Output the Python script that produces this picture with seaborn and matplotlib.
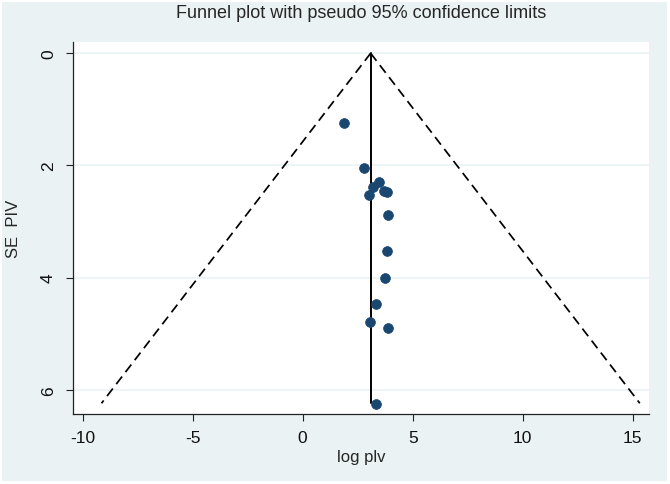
import numpy as np
import pandas as pd
import matplotlib.pyplot as plt
import seaborn as sns
from matplotlib.patches import Rectangle

# study estimates
log_plv = [1.88, 2.80, 3.48, 3.21, 3.01, 3.70, 3.83, 3.89, 3.82, 3.73, 3.35, 3.07, 3.88, 3.32]
se_piv = [1.25, 2.05, 2.29, 2.38, 2.52, 2.45, 2.47, 2.89, 3.53, 4.01, 4.47, 4.79, 4.89, 6.26]
pooled = 3.09
se_max = 6.24
x_ticks = [-10, -5, 0, 5, 10, 15]
y_ticks = [0, 2, 4, 6]

df = pd.DataFrame({"log plv": log_plv, "SE PIV": se_piv})

sns.set_theme(style="white")
plt.rcParams["font.family"] = ["Liberation Sans", "DejaVu Sans"]
plt.rcParams["axes.unicode_minus"] = False

fig = plt.figure(figsize=(6.7, 4.85), dpi=100, facecolor="white")
fig.patches.append(Rectangle((2 / 670, 3.3 / 485), 664.7 / 670, 478.4 / 485,
                             transform=fig.transFigure, facecolor="#eaf2f3",
                             edgecolor="none", zorder=-10))
ax = fig.add_axes([0.1085, 0.1433, 0.8602, 0.768])
ax.set_zorder(1)
ax.set_facecolor("white")

# pseudo 95% limits and pooled line
se_line = np.array([0, se_max])
ax.plot(pooled - 1.96 * se_line, se_line, color="black", ls=(0, (5.5, 3.2)), lw=1.25)
ax.plot(pooled + 1.96 * se_line, se_line, color="black", ls=(0, (5.5, 3.2)), lw=1.25)
ax.plot([pooled, pooled], se_line, color="black", lw=1.4)

sns.scatterplot(data=df, x="log plv", y="SE PIV", ax=ax, color="#1a476f",
                s=50, edgecolor="#1a476f", linewidth=0.5, zorder=3)

ax.set_xlim(-10.45, 15.74)
ax.set_ylim(6.44, -0.2)
ax.set_xticks(x_ticks)
ax.set_yticks(y_ticks)
ax.yaxis.grid(True, color="#eaf2f3", lw=1.2)
ax.set_axisbelow(True)

for s in ["top", "right"]:
    ax.spines[s].set_visible(False)
for s in ["left", "bottom"]:
    ax.spines[s].set_color("#222222")
    ax.spines[s].set_linewidth(0.9)

ax.tick_params(axis="both", which="both", direction="out", length=5, width=0.8,
               color="#222222", labelsize=12.5, labelcolor="#111111")
ax.tick_params(axis="x", pad=6, bottom=True)
ax.tick_params(axis="y", pad=7, left=True)
for lab in ax.get_yticklabels():
    lab.set_rotation(90)
    lab.set_va("center")

ax.set_xlabel("")
ax.set_ylabel("")
fig.text(361 / 670, 1 - 458 / 485, "log plv", ha="center", va="center", fontsize=12)
fig.text(13 / 670, 1 - 229 / 485, "SE  PIV", ha="center", va="center", fontsize=12,
         rotation=90)
fig.text(361 / 670, 1 - 14 / 485, "Funnel plot with pseudo 95% confidence limits",
         ha="center", va="center", fontsize=13)

fig.savefig("out.png", dpi=100, facecolor="white")
